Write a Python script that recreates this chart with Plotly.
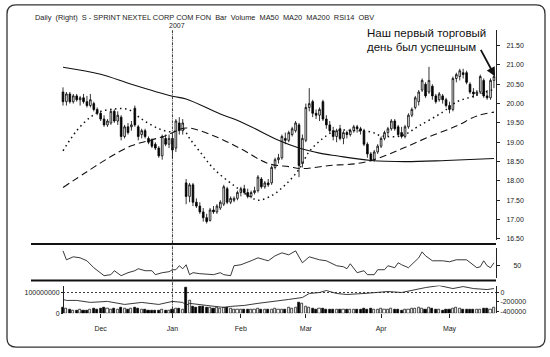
import plotly.graph_objects as go

# ---------------- data (trading-day index 0 = 14 Nov 2006) ----------------
month_idx = [11, 32, 52, 71, 93, 113]
month_lbl = ["Dec", "Jan", "Feb", "Mar", "Apr", "May"]

opens = [20.30,20.05,20.25,20.05,20.20,20.10,20.15,20.05,19.95,20.00,19.85,19.75,
 19.60,19.45,19.50,19.80,19.55,19.65,19.15,19.40,19.40,19.88,19.40,19.20,19.30,19.10,19.05,18.95,18.85,18.65,19.10,18.95,
 19.10,18.85,19.50,19.30,17.95,17.60,17.90,17.45,17.35,17.20,17.05,16.98,17.25,17.20,17.30,17.40,17.80,17.45,17.50,17.55,
 17.70,17.80,17.70,17.60,17.70,17.75,18.05,17.85,17.95,17.95,18.35,18.55,18.60,19.10,19.05,19.20,19.30,19.45,18.45,
 19.05,19.90,20.05,19.75,19.70,20.05,19.60,19.45,19.30,19.15,19.35,19.10,19.25,19.20,19.30,19.40,19.35,19.30,18.95,18.70,18.55,18.75,
 18.90,19.10,19.25,19.35,19.55,19.40,19.25,19.15,19.40,19.70,19.90,20.05,20.35,20.50,20.30,20.45,20.20,20.10,20.20,20.10,
 19.95,19.85,20.65,20.70,20.80,20.80,20.50,20.30,20.25,20.30,20.60,20.20,20.15,20.60]
highs = [20.42,20.30,20.30,20.25,20.25,20.20,20.25,20.20,20.25,20.05,19.90,19.80,
 19.70,19.60,19.85,19.85,19.80,19.70,19.45,19.50,19.55,19.95,19.45,19.35,19.35,19.15,19.10,19.00,18.90,19.20,19.20,19.20,
 19.20,19.60,19.65,19.60,18.05,17.95,17.95,17.55,17.45,17.30,17.15,17.30,17.35,17.40,17.50,17.90,17.85,17.60,17.60,17.75,
 17.85,17.90,17.80,17.75,17.85,18.15,18.10,18.00,18.05,18.40,18.60,18.70,19.20,19.25,19.30,19.40,19.55,19.50,19.20,
 20.00,20.40,20.10,19.85,19.90,20.10,19.70,19.55,19.40,19.35,19.45,19.30,19.30,19.35,19.45,19.45,19.40,19.35,19.00,18.75,18.80,18.95,
 19.15,19.30,19.40,19.60,19.60,19.45,19.40,19.45,19.75,19.90,20.20,20.35,20.65,20.55,20.95,20.50,20.25,20.30,20.25,20.15,
 20.05,20.70,20.80,20.90,20.90,20.85,20.55,20.40,20.35,20.75,20.65,20.35,20.65,20.80]
lows = [19.95,19.95,20.00,20.00,20.05,19.95,20.00,19.90,19.90,19.80,19.70,19.55,
 19.40,19.40,19.45,19.50,19.45,19.05,19.10,19.20,19.30,19.40,19.05,19.10,19.10,18.95,18.85,18.80,18.60,18.55,18.90,18.85,
 18.60,18.75,19.20,19.20,17.40,17.45,17.35,17.30,17.15,16.95,16.90,16.95,17.15,17.15,17.25,17.35,17.40,17.40,17.45,17.50,
 17.60,17.65,17.55,17.55,17.65,17.70,17.80,17.80,17.85,17.90,18.30,18.45,18.55,18.95,19.00,19.15,19.25,18.10,18.35,
 19.00,19.80,19.65,19.60,19.55,19.55,19.35,19.25,19.05,19.00,19.05,18.95,19.10,19.15,19.25,19.25,19.20,18.90,18.60,18.50,18.50,18.70,
 18.85,19.05,19.15,19.30,19.30,19.15,19.10,19.10,19.35,19.65,19.85,19.95,20.30,20.15,20.25,20.10,20.00,20.05,20.00,19.90,
 19.75,19.80,20.55,20.60,20.65,20.50,20.25,20.15,20.20,20.25,20.15,20.10,20.10,20.40]
closes = [20.05,20.25,20.05,20.20,20.10,20.15,20.05,19.95,20.10,19.85,19.75,19.60,
 19.45,19.55,19.80,19.55,19.70,19.15,19.40,19.25,19.45,19.45,19.15,19.30,19.15,19.00,18.90,18.85,18.65,19.15,18.95,19.10,
 18.80,19.55,19.30,19.50,17.60,17.90,17.45,17.35,17.20,17.05,16.95,17.25,17.20,17.35,17.45,17.85,17.45,17.55,17.55,17.70,
 17.80,17.70,17.60,17.70,17.75,18.10,17.85,17.95,17.90,18.35,18.55,18.60,19.15,19.05,19.25,19.35,19.50,18.40,19.10,
 19.90,20.00,19.75,19.70,19.85,19.60,19.45,19.30,19.15,19.30,19.10,19.25,19.20,19.30,19.40,19.35,19.30,18.95,18.70,18.55,18.75,18.90,
 19.10,19.25,19.35,19.55,19.35,19.20,19.15,19.40,19.70,19.85,20.15,20.30,20.60,20.20,20.60,20.20,20.05,20.25,20.10,19.95,
 19.85,20.65,20.75,20.85,20.75,20.55,20.30,20.25,20.30,20.70,20.20,20.15,20.60,20.70]

volume_m = [28,22,18,15,14,16,13,14,18,22,20,24,
 26,22,18,24,20,26,22,18,24,28,22,16,20,14,12,12,15,18,14,12,
 16,22,24,20,124,62,34,30,32,34,28,30,24,26,22,30,26,22,18,20,
 18,16,20,18,16,22,18,20,16,18,22,20,18,20,26,22,30,52,46,
 34,28,24,20,22,24,18,16,20,18,16,20,18,16,18,16,18,22,20,24,18,16,
 22,20,18,22,18,16,14,16,18,22,24,26,24,20,26,22,18,16,14,16,
 18,24,26,22,20,18,16,18,16,20,22,24,18,28]

ma200_i = [0,11,20,32,36,46,50,55,63,69,75,80,90,100,112,126]
ma200_v = [20.94,20.76,20.50,20.19,20.12,19.73,19.60,19.40,19.05,18.85,18.72,18.65,18.53,18.50,18.53,18.58]
ma50_i = [0,7,14,20,25,30,36,44,52,60,66,70,78,86,92,99,107,115,121,126]
ma50_v = [17.83,18.24,18.63,18.91,19.04,19.17,19.37,19.17,18.83,18.45,18.37,18.32,18.40,18.45,18.58,18.83,19.14,19.42,19.68,19.78]
ma20_i = [0,4,8,11,15,19,23,28,32,35,37,40,44,50,55,57,61,65,69,72,77,80,86,90,93,99,104,111,115,120,126]
ma20_v = [18.78,19.30,19.65,19.80,19.86,19.85,19.60,19.35,19.27,19.35,19.10,18.76,18.32,17.88,17.58,17.50,17.62,17.90,18.30,18.76,19.17,19.30,19.30,19.27,19.17,19.17,19.42,19.78,20.04,20.19,20.37]

rsi_i = [0,1,3,5,7,9,12,14,15,17,19,21,22,24,26,27,29,31,32,33,34,35,36,37,38,40,44,46,47,49,50,52,55,57,59,60,62,64,66,68,70,72,75,77,80,82,83,84,86,88,89,91,92,94,95,97,98,99,101,104,105,106,108,111,113,115,118,120,121,122,123,124,125,126]
rsi_v = [65,56,59,58,55,48,40,41,45,40,43,45,47,45,45,41,43,44,46,46,50,47,51,41,43,42,41,43,41,40,50,51,55,58,56,55,60,63,61,65,53,59,56,55,50,49,47,52,43,45,41,41,46,46,50,48,53,51,48,58,64,60,55,55,54,56,56,51,48,49,55,50,48,53]

obv_i = [0,1,4,8,13,18,23,28,32,35,36,37,42,47,49,53,57,62,66,70,72,75,77,80,83,88,92,95,99,103,106,110,114,117,120,124,126]
obv_v = [-147000,-168000,-168000,-210000,-189000,-253000,-210000,-253000,-189000,-210000,-274000,-230000,-274000,-316000,-295000,-274000,-230000,-189000,-147000,-105000,-21000,0,42000,-21000,-42000,-21000,0,21000,0,63000,105000,147000,84000,126000,84000,63000,84000]

title_txt = "Daily  (Right)  S - SPRINT NEXTEL CORP COM FON  Bar  Volume  MA50  MA20  MA200  RSI14  OBV"
note_1 = "Наш первый торговый"
note_2 = "день был успешным"

# ---------------- figure ----------------
W, H = 550, 357
def px(x): return x / W
def py(y): return 1 - y / H

n = len(closes)
assert len(opens) == n and len(highs) == n and len(lows) == n and len(volume_m) == n
idx = list(range(n))
volume = [v * 1_000_000 for v in volume_m]
vol_colors = ["black" if c < o else "white" for o, c in zip(opens, closes)]

FONT = "Liberation Sans, Arial, sans-serif"
NARROW = "Liberation Sans Narrow, Arial Narrow, Liberation Sans, Arial"
XD = [px(31), px(496)]
XR = [-9.36, 126.6]

fig = go.Figure()
fig.add_trace(go.Candlestick(
    x=idx, open=opens, high=highs, low=lows, close=closes,
    increasing=dict(line=dict(color="black", width=0.8), fillcolor="white"),
    decreasing=dict(line=dict(color="black", width=0.8), fillcolor="black"),
    whiskerwidth=0, xaxis="x", yaxis="y"))
fig.add_trace(go.Scatter(x=ma200_i, y=ma200_v, mode="lines", line=dict(color="#111", width=1.1, shape="spline"), xaxis="x", yaxis="y"))
fig.add_trace(go.Scatter(x=ma50_i, y=ma50_v, mode="lines", line=dict(color="#111", width=1.1, dash="7px,4px", shape="spline"), xaxis="x", yaxis="y"))
fig.add_trace(go.Scatter(x=ma20_i, y=ma20_v, mode="lines", line=dict(color="#111", width=1.5, dash="1.5px,3.5px", shape="spline"), xaxis="x", yaxis="y"))
fig.add_trace(go.Scatter(x=rsi_i, y=rsi_v, mode="lines", line=dict(color="#222", width=0.9), xaxis="x2", yaxis="y2"))
fig.add_trace(go.Bar(x=idx, y=volume, marker=dict(color=vol_colors, line=dict(color="black", width=0.7)), width=0.62, xaxis="x3", yaxis="y3"))
fig.add_trace(go.Scatter(x=obv_i, y=obv_v, mode="lines", line=dict(color="#222", width=0.9), xaxis="x3", yaxis="y4"))

tf = dict(family=FONT, size=7, color="#222")
fig.update_layout(
    width=W, height=H, margin=dict(l=0, r=0, t=0, b=0),
    paper_bgcolor="white", plot_bgcolor="white", showlegend=False,
    xaxis=dict(domain=XD, range=XR, visible=False, anchor="y", rangeslider=dict(visible=False)),
    xaxis2=dict(domain=XD, range=XR, visible=False, anchor="y2", matches="x"),
    xaxis3=dict(domain=XD, range=XR, anchor="y3", matches="x", showgrid=False, zeroline=False, showline=False,
                tickmode="array", tickvals=month_idx, ticktext=month_lbl, ticks="outside", ticklen=4,
                tickcolor="#222", tickfont=tf, ticklabelstandoff=4),
    yaxis=dict(domain=[py(242), py(30)], range=[16.474, 21.91], side="right", anchor="x",
               showline=True, linecolor="#222", linewidth=1, ticks="outside", ticklen=3, tickcolor="#222",
               tickvals=[16.5,17.0,17.5,18.0,18.5,19.0,19.5,20.0,20.5,21.0,21.5], tickformat=".2f",
               showgrid=False, zeroline=False, tickfont=tf, ticklabelstandoff=5),
    yaxis2=dict(domain=[py(280), py(250)], range=[38, 68], side="right", anchor="x2",
                showline=True, linecolor="#222", linewidth=1, ticks="outside", ticklen=3, tickcolor="#222",
                tickvals=[50], showgrid=False, zeroline=False, tickfont=tf, ticklabelstandoff=12),
    yaxis3=dict(domain=[py(316), py(288)], range=[0, 1.333e8], side="left", anchor="free", position=px(63),
                showline=True, linecolor="#222", linewidth=1, ticks="outside", ticklen=2, tickcolor="#222",
                tickvals=[0, 1e8], ticktext=["0", "100000000"], showgrid=False, zeroline=False, tickfont=tf),
    yaxis4=dict(overlaying="y3", range=[-442000, 147000], side="right", anchor="x3",
                showline=True, linecolor="#222", linewidth=1, ticks="outside", ticklen=2, tickcolor="#222",
                tickvals=[0, -200000, -400000], ticktext=["0", "-200000", "-400000"],
                showgrid=False, zeroline=False, tickfont=tf),
    bargap=0,
)

shapes = [
    dict(type="line", xref="paper", yref="paper", x0=px(31), x1=px(496), y0=py(246), y1=py(246), line=dict(color="#111", width=2)),
    dict(type="line", xref="paper", yref="paper", x0=px(31), x1=px(496), y0=py(283), y1=py(283), line=dict(color="#111", width=2)),
    dict(type="line", xref="x", yref="paper", x0=month_idx[1], x1=month_idx[1], y0=py(318), y1=py(30), line=dict(color="#222", width=0.9, dash="3px,1px,1px,1px")),
    dict(type="line", xref="x3", yref="y3", x0=0, x1=XR[1], y0=1e8, y1=1e8, line=dict(color="#222", width=0.9, dash="2px,2px")),
]
x0, x1, y0, y1 = px(7), px(545), py(350), py(5)
rx, ry = 9 / W, 9 / H
path = (f"M {x0+rx},{y1} L {x1-rx},{y1} Q {x1},{y1} {x1},{y1-ry} L {x1},{y0+ry} Q {x1},{y0} {x1-rx},{y0} "
        f"L {x0+rx},{y0} Q {x0},{y0} {x0},{y0+ry} L {x0},{y1-ry} Q {x0},{y1} {x0+rx},{y1} Z")
shapes.append(dict(type="path", xref="paper", yref="paper", path=path, line=dict(color="#333", width=1.3)))
fig.update_layout(shapes=shapes)

ann = [
    dict(text=title_txt, x=px(33), y=py(18), xref="paper", yref="paper", xanchor="left", yanchor="middle", showarrow=False,
         font=dict(family=FONT, size=7.4, color="#222")),
    dict(text="2007", x=px(177), y=py(26), xref="paper", yref="paper", xanchor="center", yanchor="middle", showarrow=False,
         font=dict(family=FONT, size=7, color="#222")),
    dict(text=note_1, x=px(365), y=py(33), xref="paper", yref="paper", xanchor="left", yanchor="middle", showarrow=False,
         font=dict(family=NARROW, size=11.5, color="#111")),
    dict(text=note_2, x=px(365), y=py(47), xref="paper", yref="paper", xanchor="left", yanchor="middle", showarrow=False,
         font=dict(family=NARROW, size=11.5, color="#111")),
    dict(text="", x=px(495), y=py(77), xref="paper", yref="paper", ax=-15, ay=-28, showarrow=True,
         arrowhead=2, arrowsize=1, arrowwidth=1.8, arrowcolor="#111"),
]
fig.update_layout(annotations=ann)

fig.write_html("out.html")
